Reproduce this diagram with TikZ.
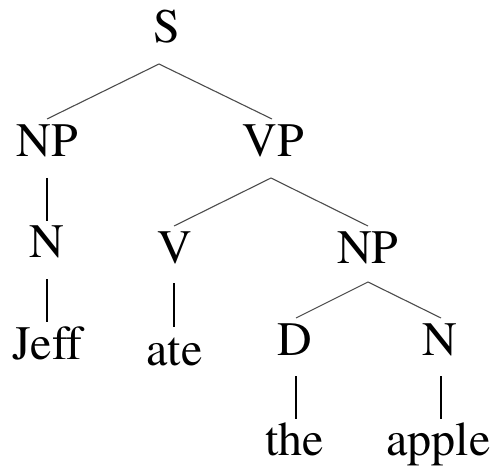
\documentclass[tikz,border=0pt]{standalone}
\usepackage[T1]{fontenc}
\renewcommand{\rmdefault}{ptm}
\begin{document}
\begin{tikzpicture}[x=1bp,y=-1bp,
  lbl/.style={anchor=base,inner sep=0pt,font=\rmfamily\fontsize{48bp}{58bp}\selectfont},
  diag/.style={line width=1.1bp,draw=black!70},
  vert/.style={line width=1.9bp,draw=black}]
\useasboundingbox (0,0) rectangle (496,472);
% labels
\node[lbl] (S) at (166.5,43) {S};
\node[lbl] (NPa) at (47.5,157) {NP};
\node[lbl] (VP) at (273.5,157) {VP};
\node[lbl] (Na) at (47,257) {N};
\node[lbl] (V) at (175,263) {V};
\node[lbl] (NPb) at (368,263) {NP};
\node[lbl] (Jeff) at (47.5,359) {Jeff};
\node[lbl] (ate) at (174.5,365) {ate};
\node[lbl] (D) at (295,355) {D};
\node[lbl] (Nb) at (440,355) {N};
\node[lbl] (the) at (294.5,455) {the};
\node[lbl] (apple) at (438.5,455) {apple};
% connector ends
\coordinate (S-b) at (159,64);
\coordinate (NPa-t) at (47,119);
\coordinate (VP-t) at (272,119);
\coordinate (NPa-b) at (47,178);
\coordinate (Na-t) at (47,221);
\coordinate (VP-b) at (271,178);
\coordinate (V-t) at (174,226);
\coordinate (NPb-t) at (368,226);
\coordinate (Na-b) at (47,279);
\coordinate (Jeff-t) at (47,322);
\coordinate (V-b) at (174,283);
\coordinate (ate-t) at (174,327);
\coordinate (NPb-b) at (368,282);
\coordinate (D-t) at (296,318);
\coordinate (Nb-t) at (441,318);
\coordinate (D-b) at (296,376);
\coordinate (the-t) at (296,419);
\coordinate (Nb-b) at (441,376);
\coordinate (apple-t) at (441,419);
% connectors
\draw[diag] (NPa-t) -- (S-b) -- (VP-t);
\draw[diag] (V-t) -- (VP-b) -- (NPb-t);
\draw[diag] (D-t) -- (NPb-b) -- (Nb-t);
\draw[vert] (NPa-b) -- (Na-t);
\draw[vert] (Na-b) -- (Jeff-t);
\draw[vert] (V-b) -- (ate-t);
\draw[vert] (D-b) -- (the-t);
\draw[vert] (Nb-b) -- (apple-t);
\end{tikzpicture}
\end{document}
